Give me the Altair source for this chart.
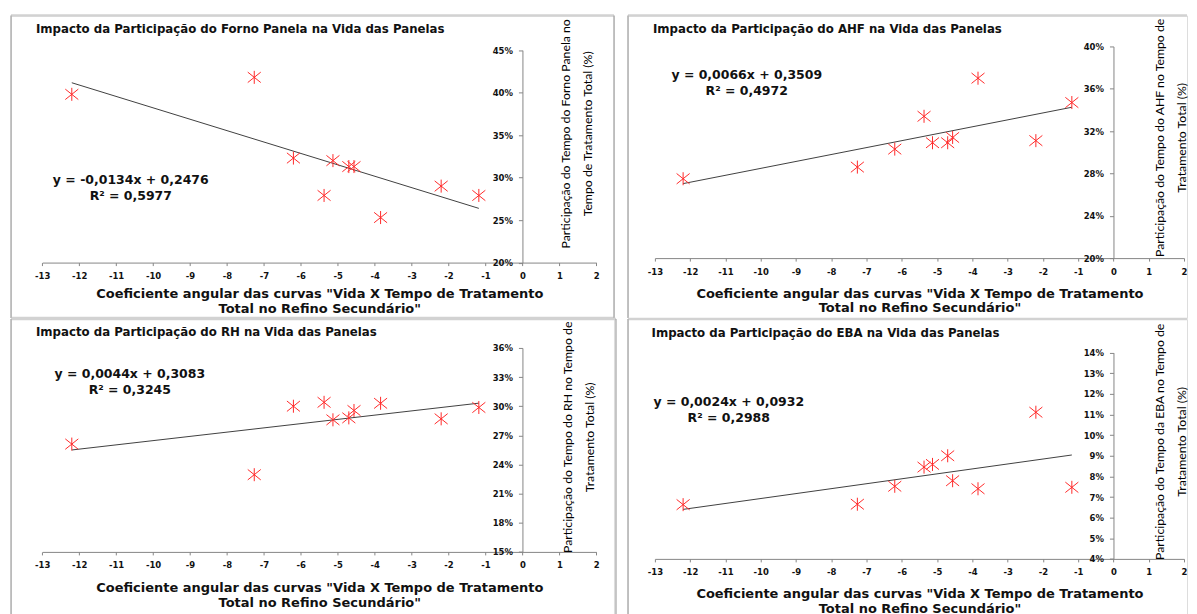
import altair as alt
import pandas as pd

# ---------------- data ----------------
x_coef = [-12.2, -7.26, -6.2, -5.37, -5.13, -4.7, -4.56, -3.84, -2.2, -1.18]

y_fp = [0.398, 0.418, 0.323, 0.279, 0.320, 0.313, 0.313, 0.253, 0.290, 0.279]
y_ahf = [0.275, 0.286, 0.303, 0.334, 0.309, 0.309, 0.314, 0.370, 0.311, 0.347]
y_rh = [0.261, 0.2295, 0.300, 0.304, 0.286, 0.288, 0.2956, 0.303, 0.287, 0.2987]
y_eba = [0.0663, 0.0665, 0.0752, 0.0845, 0.0858, 0.090, 0.0779, 0.074, 0.1111, 0.0747]

x_ticks = list(range(-13, 3))
y_ticks_fp = [0.20, 0.25, 0.30, 0.35, 0.40, 0.45]
y_ticks_ahf = [0.20, 0.24, 0.28, 0.32, 0.36, 0.40]
y_ticks_rh = [0.15, 0.18, 0.21, 0.24, 0.27, 0.30, 0.33, 0.36]
y_ticks_eba = [0.04, 0.05, 0.06, 0.07, 0.08, 0.09, 0.10, 0.11, 0.12, 0.13, 0.14]

titles = [
    "Impacto da Participação  do Forno Panela na Vida das Panelas",
    "Impacto da Participação  do AHF na Vida das Panelas",
    "Impacto da Participação  do RH na Vida das Panelas",
    "Impacto da Participação  do EBA na Vida das Panelas",
]
equations = [
    "y = -0,0134x + 0,2476\nR² = 0,5977",
    "y = 0,0066x + 0,3509\nR² = 0,4972",
    "y = 0,0044x + 0,3083\nR² = 0,3245",
    "y = 0,0024x + 0,0932\nR² = 0,2988",
]
y_titles = [
    ["Participação do Tempo do Forno Panela no", "Tempo de Tratamento Total (%)"],
    ["Participação do Tempo do AHF no Tempo de", "Tratamento Total (%)"],
    ["Participação do Tempo do RH no Tempo de", "Tratamento Total (%)"],
    ["Participação do Tempo da EBA no Tempo de", "Tratamento Total (%)"],
]
x_title = ['Coeficiente angular das curvas "Vida X Tempo de Tratamento',
           'Total no Refino Secundário"']

WIDE = "DejaVu Sans"
NARROW = "Lato"
STAR = "M-1,-0.8L1,0.8M-1,0.8L1,-0.8M0,-1L0,1"
one = pd.DataFrame({"k": [0]})


def hline(x1, x2, y):
    return alt.Chart(one).mark_rule(color="#d2d2d2", strokeWidth=2.5).encode(
        x=alt.value(x1), x2=alt.value(x2), y=alt.value(y))


def vline(x, y1, y2):
    return alt.Chart(one).mark_rule(color="#a8a8a8", strokeWidth=1.3).encode(
        x=alt.value(x), y=alt.value(y1), y2=alt.value(y2))


def panel(y_vals, y_ticks, title, eq, ytitle, W, H, xr, yr,
          title_xy, eq_xy, ytitle_x, ytitle_y, xtitle_y, borders):
    df = pd.DataFrame({"x": x_coef, "y": y_vals})
    x0_px = xr[0] + 13 / 15 * (xr[1] - xr[0])
    xs = alt.Scale(domain=[-13, 2], range=xr, nice=False, zero=False)
    ys = alt.Scale(domain=[y_ticks[0], y_ticks[-1]], range=yr, nice=False, zero=False)
    xaxis = alt.Axis(values=x_ticks, labelExpr="datum.value + ''",
                     offset=-(H - yr[0]), grid=False,
                     domainColor="#868686", tickColor="#868686", tickSize=3,
                     labelFont=WIDE, labelFontWeight="bold", labelFontSize=8.5,
                     labelColor="#111111", labelPadding=6, labelFlush=False,
                     title=x_title, titleFont=WIDE, titleFontWeight="bold",
                     titleFontSize=13, titleColor="#111111", titleLineHeight=15,
                     titleBaseline="middle", titleY=xtitle_y)
    yaxis = alt.Axis(values=y_ticks, format=".0%", orient="left",
                     offset=-x0_px, grid=False,
                     domainColor="#868686", tickColor="#868686", tickSize=4,
                     labelFont=WIDE, labelFontWeight="bold", labelFontSize=8.5,
                     labelColor="#111111", labelPadding=6,
                     title=ytitle, titleFont=NARROW, titleFontWeight="normal",
                     titleFontSize=12.3, titleColor="#000000", titleLineHeight=22,
                     titleAngle=270, titleAlign="center", titleBaseline="middle",
                     titleX=ytitle_x, titleY=ytitle_y)
    base = alt.Chart(df).encode(
        x=alt.X("x:Q", scale=xs, axis=xaxis),
        y=alt.Y("y:Q", scale=ys, axis=yaxis),
    )
    pts = base.mark_point(shape=STAR, size=170, filled=False,
                          color="#ff2a2a", strokeWidth=1, opacity=1)
    line = base.transform_regression("x", "y").mark_line(color="#404040", strokeWidth=1)
    ttl = alt.Chart(pd.DataFrame({"t": [title]})).mark_text(
        align="left", baseline="middle", font=WIDE, fontWeight="bold",
        fontSize=11.8, color="#111111").encode(
        x=alt.value(title_xy[0]), y=alt.value(title_xy[1]), text="t:N")
    eqt = alt.Chart(pd.DataFrame({"t": [eq]})).mark_text(
        align="center", baseline="middle", font=WIDE, fontWeight="bold",
        fontSize=12.5, color="#111111", lineBreak="\n", lineHeight=16).encode(
        x=alt.value(eq_xy[0]), y=alt.value(eq_xy[1]), text="t:N")
    return alt.layer(*borders, line, pts, ttl, eqt).properties(width=W, height=H)


W1, H1 = 604, 303
W2, H2 = 560, 300

p1 = panel(y_fp, y_ticks_fp, titles[0], equations[0], y_titles[0],
           W1, H1, [31.3, 586.3], [247.5, 34.7], (25, 13.5), (120, 165), 43, 118, 31,
           [hline(0, W1, 0), hline(0, W1, H1), vline(0, 0, H1), vline(W1, 0, H1)])
p2 = panel(y_ahf, y_ticks_ahf, titles[1], equations[1], y_titles[1],
           W2, H1, [27, 557], [243, 31], (25, 14), (119, 59.7), 46, 122, 35,
           [hline(0, W2, 0), vline(0, 0, H1)])
p3 = panel(y_rh, y_ticks_rh, titles[2], equations[2], y_titles[2],
           W1, H2, [31.3, 586.3], [233.3, 29], (25, 13.5), (119, 54.7), 45, 118, 35.4,
           [hline(0, W1 + 2, 0), vline(0, 0, H2), vline(W1 + 2, 0, H2)])
p4 = panel(y_eba, y_ticks_eba, titles[3], equations[3], y_titles[3],
           W2, H2, [27, 557], [240.3, 33.7], (23.6, 14.5), (101, 83), 46, 122.5, 34.4,
           [hline(0, W2, 0), vline(0, 0, H2)])

chart = alt.concat(
    p1, p2, p3, p4, columns=2, spacing={"row": 1, "column": 14}, bounds="flush"
).properties(
    padding={"left": 1, "top": 5, "right": 0, "bottom": 0}
).configure_view(stroke=None).configure(background="white")

chart.save("out.html", embed_options={"renderer": "svg", "actions": False})
